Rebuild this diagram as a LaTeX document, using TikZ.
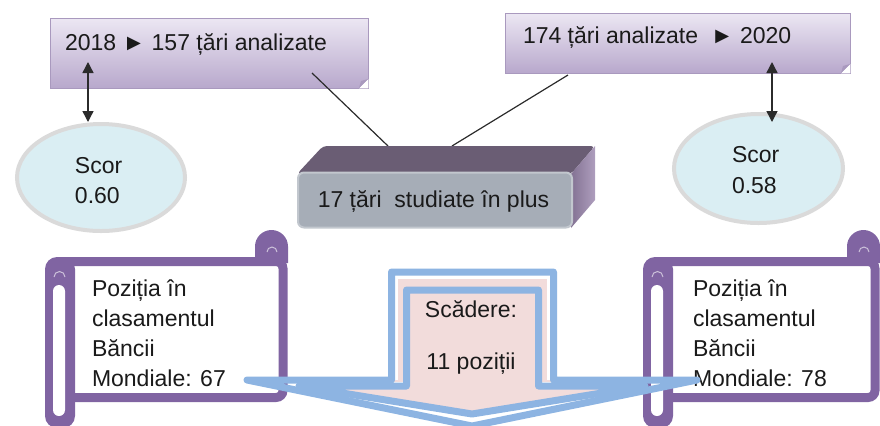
\documentclass[tikz,border=0pt]{standalone}
\usepackage{fontspec}
\setmainfont{Liberation Sans}
\usetikzlibrary{arrows.meta,shapes.geometric}
\definecolor{scrollpurple}{HTML}{8064A2}
\definecolor{arrowblue}{HTML}{8DB4E2}
\definecolor{arrowpink}{HTML}{F2DCDB}
\definecolor{ellfill}{HTML}{DAEEF3}
\definecolor{elldraw}{HTML}{DADADA}
\definecolor{boxlight}{HTML}{ECE7F3}
\definecolor{boxdark}{HTML}{B8A8CC}
\definecolor{boxedge}{HTML}{A999BE}
\definecolor{midtop}{HTML}{6A5D74}
\definecolor{midside}{HTML}{9A86AD}
\definecolor{midfront}{HTML}{A6ADB7}
\definecolor{midedge}{HTML}{C2C7CE}
\definecolor{txtcol}{HTML}{1A1A1A}
\definecolor{linecol}{HTML}{2B2B2B}

\newcommand{\drawmyscroll}[2]{%
  \fill[white] (#1+22,262) rectangle (#2-6,397);
  \draw[scrollline, rounded corners=3.5pt] (#1+15,261.5) -- (#2-5,261.5) -- (#2-5,397.5) -- (#1+20,397.5);
  \fill[scrollpurple, rounded corners=6pt] (#1,257) rectangle (#1+30,428);
  \fill[white, rounded corners=3pt] (#1+8,285) rectangle (#1+20,416);
  \draw[curlmark] (#1+9,277) arc[start angle=180,end angle=360,radius=5.5];
  \fill[scrollpurple] (#2-33,263) -- (#2-33,246.5) arc[start angle=180,end angle=360,radius=16.5] -- (#2,263) -- cycle;
  \draw[curlmark] (#2-21,252) arc[start angle=180,end angle=360,radius=5];
}

\begin{document}
\begin{tikzpicture}[x=0.5pt,y=-0.5pt,
  every node/.style={inner sep=0pt,outer sep=0pt},
  txt/.style={font=\fontsize{11.5}{15}\selectfont,text=txtcol},
  notebox/.style={rectangle, top color=boxlight, bottom color=boxdark, draw=boxedge, line width=0.4pt},
  ellbox/.style={ellipse, fill=ellfill, draw=elldraw, line width=2pt},
  conn/.style={draw=linecol, line width=0.6pt},
  dblarrow/.style={draw=linecol, line width=0.7pt, >={Triangle[width=5.5pt,length=5.5pt]}, <->},
  scrollline/.style={draw=scrollpurple, line width=4.5pt},
  curlmark/.style={draw=white!60!scrollpurple, line width=0.5pt},
  bluestroke/.style={draw=arrowblue, line width=3.5pt, line join=round},
]
\useasboundingbox (0,0) rectangle (880,425);

% top boxes
\node[notebox, minimum width=159pt, minimum height=35pt] (tl) at (209,53) {};
\fill[white] (359,88.4) -- (368.4,88.4) -- (368.4,79) -- cycle;
\fill[boxedge] (359,88) -- (368,79) -- (361,81) -- cycle;
\node[notebox, minimum width=172.5pt, minimum height=30pt] (tr) at (677.5,43) {};
\fill[white] (841,73.4) -- (850.4,73.4) -- (850.4,64) -- cycle;
\fill[boxedge] (841,73) -- (850,64) -- (843,66) -- cycle;

% ellipses
\node[ellbox, minimum width=84pt, minimum height=53.5pt] (e1) at (101,177.5) {};
\node[ellbox, minimum width=84.5pt, minimum height=54.5pt] (e2) at (758.5,168.5) {};

% double arrows
\coordinate (a1s) at (88,62); \coordinate (a1e) at (88,122);
\draw[dblarrow] (a1s) -- (a1e);
\coordinate (a2s) at (772,62); \coordinate (a2e) at (772,122);
\draw[dblarrow] (a2s) -- (a2e);

% connectors
\coordinate (c1s) at (312,73); \coordinate (c1e) at (388,146);
\coordinate (c2s) at (568,75); \coordinate (c2e) at (452,146);
\draw[conn] (c1s) -- (c1e);
\draw[conn] (c2s) -- (c2e);

% 3D box
\fill[midtop, rounded corners=2pt] (323,146) -- (595,146) -- (571,174) -- (297,174) -- cycle;
\shade[left color=midside!85!black, right color=midside!80!white] (595,146) -- (595,200) -- (571,228) -- (571,174) -- cycle;
\node[rectangle, rounded corners=3pt, fill=midfront, draw=midedge, line width=1pt, minimum width=137pt, minimum height=27.5pt] (mid) at (435,200) {};

% scrolls
\drawmyscroll{45}{288}
\drawmyscroll{643}{880}

\node[txt, anchor=base west] (s1a) at (92,296) {Poziția în};
\node[txt, anchor=base west] (s1b) at (92,326) {clasamentul};
\node[txt, anchor=base west] (s1c) at (92,356) {Băncii};
\node[txt, anchor=base west] (s1d) at (92,386) {Mondiale: 67};
\node[txt, anchor=base west] (s2a) at (693,296) {Poziția în};
\node[txt, anchor=base west] (s2b) at (693,326) {clasamentul};
\node[txt, anchor=base west] (s2c) at (693,356) {Băncii};
\node[txt, anchor=base west] (s2d) at (693,386) {Mondiale: 78};

% callout arrow
\fill[arrowpink] (391.5,272) rectangle (553.5,382);
\fill[arrowpink] (406.5,290) -- (538.5,290) -- (538.5,386) -- (645,386) -- (472,414) -- (299,386) -- (406.5,386) -- cycle;
\draw[white, line width=6.5pt] (391.5,380) -- (391.5,272) -- (553.5,272) -- (553.5,380);
\draw[bluestroke] (406.5,290) -- (538.5,290) -- (538.5,386) -- (645,386) -- (472,414) -- (299,386) -- (406.5,386) -- cycle;
\draw[bluestroke] (391.5,272) -- (553.5,272) -- (553.5,380) -- (697,380) -- (472,426) -- (247,380) -- (391.5,380) -- cycle;

% texts
\node[txt, anchor=base west] (ttl) at (65,50) {2018 ► 157 țări analizate};
\node[txt, anchor=base west] (ttr) at (523,43) {174 țări analizate\ \ ► 2020};
\node[txt, anchor=base west] (e1a) at (75,173) {Scor};
\node[txt, anchor=base west] (e1b) at (75,203) {0.60};
\node[txt, anchor=base west] (e2a) at (732,162) {Scor};
\node[txt, anchor=base west] (e2b) at (732,193) {0.58};
\node[txt, anchor=base] (midt) at (433.5,207) {17 țări\ \ studiate în plus};
\node[txt, anchor=base] (ar1) at (471,317) {Scădere:};
\node[txt, anchor=base] (ar2) at (471,369) {11 poziții};
\end{tikzpicture}
\end{document}
